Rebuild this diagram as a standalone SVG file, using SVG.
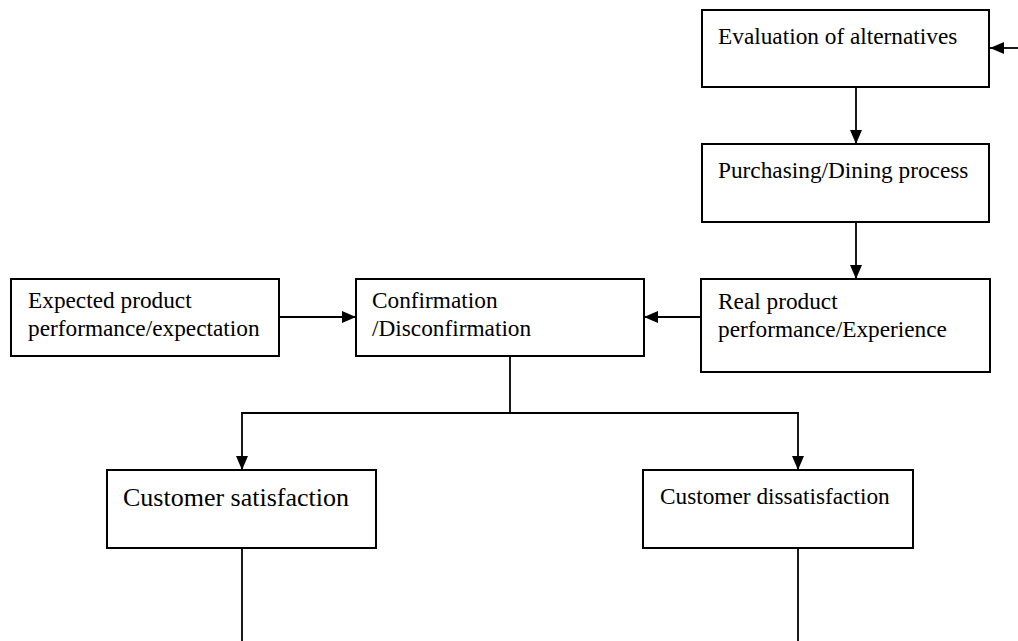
<svg xmlns="http://www.w3.org/2000/svg" width="1018" height="641" viewBox="0 0 1018 641">
<defs>
<marker id="ah" viewBox="0 0 14 12" refX="14" refY="6" markerWidth="14" markerHeight="12" markerUnits="userSpaceOnUse" orient="auto">
<path d="M0,0 L14,6 L0,12 z" fill="#000"/>
</marker>
<style>
.box{fill:#fff;stroke:#000;stroke-width:2}
.t{font-family:"Liberation Serif","Times New Roman",serif;font-size:23.3px;fill:#000}
.big{font-size:26px}
.c{fill:none;stroke:#000;stroke-width:1.8}
</style>
</defs>
<rect width="1018" height="641" fill="#fff"/>
<g id="connectors">
<line class="c" x1="1018" y1="48" x2="990" y2="48" marker-end="url(#ah)"/>
<line class="c" x1="856" y1="87" x2="856" y2="144" marker-end="url(#ah)"/>
<line class="c" x1="856" y1="222" x2="856" y2="279" marker-end="url(#ah)"/>
<line class="c" x1="279" y1="317" x2="356" y2="317" marker-end="url(#ah)"/>
<line class="c" x1="701" y1="317" x2="644" y2="317" marker-end="url(#ah)"/>
<polyline class="c" points="510,356 510,413 242,413 242,470" marker-end="url(#ah)"/>
<polyline class="c" points="510,413 798,413 798,470" marker-end="url(#ah)"/>
<line class="c" x1="242" y1="548" x2="242" y2="641"/>
<line class="c" x1="798" y1="548" x2="798" y2="641"/>
</g>
<g id="evaluation">
<rect class="box" x="702" y="10" width="287" height="77"/>
<text class="t" x="718" y="44">Evaluation of alternatives</text>
</g>
<g id="purchasing">
<rect class="box" x="702" y="144" width="287" height="78"/>
<text class="t" x="718" y="178">Purchasing/Dining process</text>
</g>
<g id="real">
<rect class="box" x="701" y="279" width="289" height="93"/>
<text class="t" x="718" y="309">Real product</text>
<text class="t" x="718" y="337">performance/Experience</text>
</g>
<g id="confirmation">
<rect class="box" x="356" y="279" width="288" height="77"/>
<text class="t" x="372" y="308">Confirmation</text>
<text class="t" x="372" y="336">/Disconfirmation</text>
</g>
<g id="expected">
<rect class="box" x="11" y="279" width="268" height="77"/>
<text class="t" x="28" y="308">Expected product</text>
<text class="t" x="28" y="336">performance/expectation</text>
</g>
<g id="satisfaction">
<rect class="box" x="107" y="470" width="269" height="78"/>
<text class="t big" x="123" y="506">Customer satisfaction</text>
</g>
<g id="dissatisfaction">
<rect class="box" x="643" y="470" width="270" height="78"/>
<text class="t" x="660" y="504">Customer dissatisfaction</text>
</g>
</svg>
